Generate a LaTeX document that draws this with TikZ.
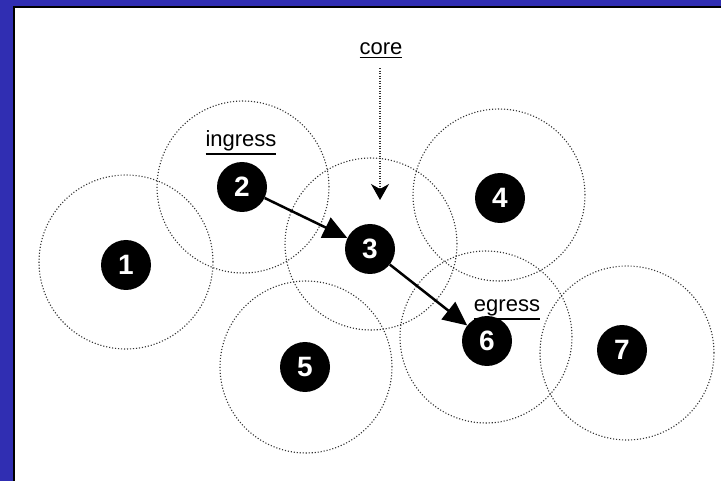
\documentclass[tikz,border=0pt]{standalone}
\usepackage{fontspec}
\setmainfont{Liberation Sans}
\usetikzlibrary{arrows.meta}
\definecolor{slideblue}{RGB}{48,46,178}
\definecolor{rangegray}{RGB}{50,50,50}
% underlined label whose baseline stays on the text
\newcommand{\undertext}[1]{\vtop{\hbox{#1}\kern1.6pt\hrule height 1.6pt}}
\begin{document}
\begin{tikzpicture}[x=1pt,y=-1pt,
  radiorange/.style={circle, draw=rangegray, line width=1.1pt,
    dash pattern=on 1.1pt off 1.9pt, minimum size=172pt, inner sep=0pt},
  station/.style={circle, fill=black, text=white, minimum size=50pt,
    inner sep=0pt, font=\fontsize{28}{32}\selectfont\bfseries},
  tag/.style={anchor=base, inner sep=0pt, font=\fontsize{22}{26}\selectfont},
  hop/.style={line width=2.5pt, -{Triangle[length=24pt,width=22pt]}},
  pointer/.style={draw=rangegray, line width=1.2pt,
    dash pattern=on 1.2pt off 1.3pt,
    -{Stealth[length=16pt,width=18pt,inset=5pt,color=black]}}
]
% slide frame
\useasboundingbox (0,0) rectangle (721,481);
\fill[slideblue] (0,0) rectangle (721,481);
\fill[black] (13,6) rectangle (721,481);
\fill[white] (15,8) rectangle (721,481);

% radio ranges
\node[radiorange, minimum size=174pt] (r1) at (126,262) {};
\node[radiorange] (r2) at (243,187) {};
\node[radiorange] (r3) at (371,244) {};
\node[radiorange] (r4) at (499,195) {};
\node[radiorange] (r5) at (306,367) {};
\node[radiorange] (r6) at (486,337) {};
\node[radiorange, minimum size=174pt] (r7) at (627,353) {};

% stations
\node[station] (n1) at (126,265) {1};
\node[station] (n2) at (242,187) {2};
\node[station] (n3) at (370,249) {3};
\node[station] (n4) at (500,198) {4};
\node[station] (n5) at (305,367) {5};
\node[station] (n6) at (487,341) {6};
\node[station] (n7) at (622,350) {7};

% labels
\node[tag] (ingress) at (241,147) {\undertext{ingress}};
\node[tag] (core) at (381,55) {\undertext{core}};
\node[tag] (egress) at (507,312) {\undertext{egress}};

% path through the network
\draw[hop] (n2) -- (n3);
\draw[hop] (n3) -- (n6);

% pointer to the core region
\coordinate (coretip) at (380,200);
\draw[pointer] ([xshift=-1pt,yshift=-9.5pt]core.south) -- (coretip);
\end{tikzpicture}
\end{document}
